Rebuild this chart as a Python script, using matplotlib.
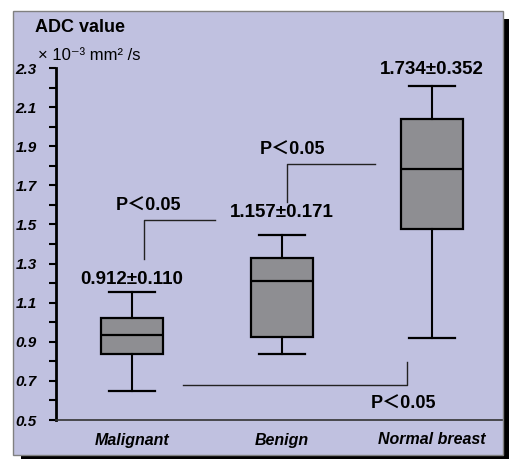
import matplotlib
matplotlib.use("Agg")
import matplotlib.pyplot as plt
from matplotlib.patches import Rectangle

plt.rcParams['font.family'] = ['Liberation Sans', 'Noto Sans CJK SC', 'DejaVu Sans']
plt.rcParams['mathtext.fontset'] = 'custom'
plt.rcParams['mathtext.rm'] = 'Liberation Sans'
plt.rcParams['mathtext.it'] = 'Liberation Sans:italic'
plt.rcParams['mathtext.bf'] = 'Liberation Sans:bold'

# ---- data ----
categories = ["Malignant", "Benign", "Normal breast"]
whisker_low = [0.65, 0.835, 0.92]
q1 = [0.84, 0.925, 1.475]
median = [0.935, 1.21, 1.785]
q3 = [1.02, 1.33, 2.04]
whisker_high = [1.155, 1.445, 2.21]
mean_sd_labels = ["0.912±0.110", "1.157±0.171", "1.734±0.352"]
mean_label_y = [1.221, 1.559, 2.29]
p_labels = ["P＜0.05", "P＜0.05", "P＜0.05"]
p_label_x = [1.113, 2.067, 2.813]
p_label_y = [1.594, 1.881, 0.582]
bracket_x = [[1.08, 1.08, 1.55], [2.033, 2.033, 2.62], [1.34, 2.833, 2.833]]
bracket_y = [[1.325, 1.524, 1.524], [1.616, 1.81, 1.81], [0.679, 0.679, 0.795]]
y_major = [0.5, 0.7, 0.9, 1.1, 1.3, 1.5, 1.7, 1.9, 2.1, 2.3]
y_minor = [0.6, 0.8, 1.0, 1.2, 1.4, 1.6, 1.8, 2.0, 2.2]

W, H = 509, 459
fig = plt.figure(figsize=(W / 100, H / 100), dpi=100)
fig.patch.set_facecolor('white')

# shadow and panel
fig.patches.append(Rectangle((21 / W, 0), (509 - 21) / W, 1 - 19 / H,
                             transform=fig.transFigure, facecolor='black',
                             edgecolor='none', zorder=0))
fig.patches.append(Rectangle((13 / W, 1 - 455 / H), 490 / W, 444 / H,
                             transform=fig.transFigure, facecolor='#c0c1e0',
                             edgecolor='#808080', linewidth=1, zorder=1))

ax = fig.add_axes([56 / W, 1 - 420 / H, (502 - 56) / W, (420 - 68) / H])
ax.set_facecolor('none')
ax.set_zorder(2)

positions = [1, 2, 3]
stats = []
for i in range(3):
    stats.append(dict(med=median[i], q1=q1[i], q3=q3[i],
                      whislo=whisker_low[i], whishi=whisker_high[i], fliers=[]))
ax.bxp(stats, positions=positions, widths=0.41, capwidths=0.31,
       patch_artist=True, showfliers=False,
       boxprops=dict(facecolor='#8e8e92', edgecolor='black', linewidth=1.6),
       medianprops=dict(color='black', linewidth=1.6),
       whiskerprops=dict(color='black', linewidth=1.5),
       capprops=dict(color='black', linewidth=1.6))

ax.set_xlim(0.493, 3.467)
ax.set_ylim(0.5, 2.3)

ax.set_yticks(y_major)
ax.set_yticklabels([f"{v:.1f}" for v in y_major], fontsize=11,
                   fontweight='bold', fontstyle='italic')
ax.set_yticks(y_minor, minor=True)
ax.tick_params(axis='y', which='both', direction='out', length=5, width=1.5,
               color='black', pad=9)
ax.set_xticks(positions)
ax.set_xticklabels(categories, fontsize=11.5, fontweight='bold', fontstyle='italic')
ax.tick_params(axis='x', length=0, pad=9)

for s in ['top', 'right']:
    ax.spines[s].set_visible(False)
ax.spines['left'].set_linewidth(2)
ax.spines['left'].set_color('black')
ax.spines['bottom'].set_linewidth(1.2)
ax.spines['bottom'].set_color('#333333')

for i in range(3):
    ax.text(positions[i], mean_label_y[i], mean_sd_labels[i], ha='center',
            va='center', fontsize=13.5, fontweight='bold')
for i in range(3):
    ax.text(p_label_x[i], p_label_y[i], p_labels[i], ha='center', va='center',
            fontsize=13, fontweight='bold')
    ax.plot(bracket_x[i], bracket_y[i], color='#222222', linewidth=1)

fig.text(35 / W, 1 - 27 / H, "ADC value", ha='left', va='center',
         fontsize=13, fontweight='bold')
fig.text(38 / W, 1 - 55 / H, "× 10⁻³ mm² /s", ha='left',
         va='center', fontsize=12)

fig.savefig("out.png", dpi=100)
